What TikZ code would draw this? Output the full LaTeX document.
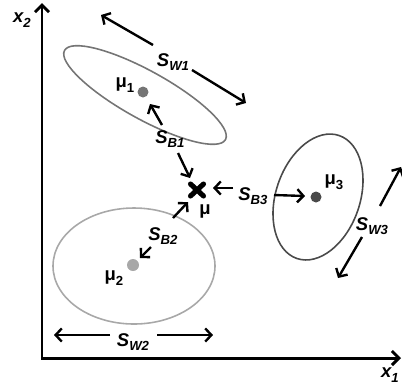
\documentclass[tikz,border=0pt]{standalone}
\usepackage{fontspec}
\setmainfont{Liberation Sans}
\usetikzlibrary{arrows.meta}
\definecolor{gA}{HTML}{757575}
\definecolor{gB}{HTML}{A8A8A8}
\definecolor{gC}{HTML}{4A4A4A}
\newcommand{\lblS}[1]{\bfseries\itshape S\raisebox{-0.45ex}{\fontsize{7.5}{8}\selectfont #1}}
\newcommand{\lblM}[1]{\bfseries μ\raisebox{-0.45ex}{\fontsize{7.5}{8}\selectfont #1}}
\begin{document}
\begin{tikzpicture}[x=0.02cm,y=0.02cm,
  lbl/.style={inner sep=0pt,font=\fontsize{10.5}{12}\selectfont},
  arr/.style={line width=1.35pt,-{Straight Barb[length=3.5pt,width=7.5pt]}},
  axis/.style={line width=1.7pt,-{Straight Barb[length=4pt,width=8pt]}},
  ell/.style={line width=0.9pt}]
\useasboundingbox (0,0) rectangle (402,-387);
% axes
\coordinate (o) at (42,-358);
\coordinate (xe) at (401,-358);
\coordinate (ye) at (42,-3);
\draw[axis] (o) -- (xe);
\draw[axis] ([yshift=-0.85pt]o) -- (ye);
\node[lbl] (x2) at (22,-20) {\bfseries\itshape x\raisebox{-0.45ex}{\fontsize{7.5}{8}\selectfont 2}};
\node[lbl] (x1) at (390,-375) {\bfseries\itshape x\raisebox{-0.45ex}{\fontsize{7.5}{8}\selectfont 1}};
% ellipses
\draw[ell,gA] (145,-95) ellipse[x radius=92,y radius=24,rotate=-29];
\draw[ell,gB] (134,-266) ellipse[x radius=81,y radius=58];
\draw[ell,gC] (318,-197) ellipse[x radius=65,y radius=42,rotate=71];
% means
\fill[gA] (143,-92) circle (5.5) coordinate (m1);
\fill[gB] (133,-265) circle (6) coordinate (m2);
\fill[gC] (316,-197) circle (5.5) coordinate (m3);
\node[lbl] (lm1) at (125,-85) {\lblM{1}};
\node[lbl] (lm2) at (114,-278) {\lblM{2}};
\node[lbl] (lm3) at (334,-182) {\lblM{3}};
% overall mean
\coordinate (mu) at (197,-190);
\draw[line width=2.9pt,line cap=round] ([shift={(-6.5,-6)}]mu) -- ([shift={(6.5,6)}]mu) ([shift={(-6.5,6)}]mu) -- ([shift={(6.5,-6)}]mu);
\node[lbl] (lmu) at (205,-211) {\bfseries μ};
% within scatter labels
\node[lbl] (sw1) at (173,-62) {\lblS{W1}};
\coordinate (sw1a) at (153,-45); \coordinate (sw1at) at (101,-15);
\coordinate (sw1b) at (192,-70); \coordinate (sw1bt) at (246,-103);
\draw[arr] (sw1a) -- (sw1at);
\draw[arr] (sw1b) -- (sw1bt);
\node[lbl] (sw2) at (133,-342) {\lblS{W2}};
\coordinate (sw2a) at (110,-335); \coordinate (sw2at) at (54,-335);
\coordinate (sw2b) at (157,-335); \coordinate (sw2bt) at (213,-335);
\draw[arr] (sw2a) -- (sw2at);
\draw[arr] (sw2b) -- (sw2bt);
\node[lbl] (sw3) at (372,-226) {\lblS{W3}};
\coordinate (sw3a) at (380,-206); \coordinate (sw3at) at (401,-167);
\coordinate (sw3b) at (362,-237); \coordinate (sw3bt) at (338,-278);
\draw[arr] (sw3a) -- (sw3at);
\draw[arr] (sw3b) -- (sw3bt);
% between scatter labels
\node[lbl] (sb1) at (170,-139) {\lblS{B1}};
\coordinate (sb1a) at (162,-125); \coordinate (sb1at) at (150,-104);
\coordinate (sb1b) at (178,-153); \coordinate (sb1bt) at (190,-178);
\draw[arr] (sb1a) -- (sb1at);
\draw[arr] (sb1b) -- (sb1bt);
\node[lbl] (sb2) at (163,-236) {\lblS{B2}};
\coordinate (sb2a) at (151,-247); \coordinate (sb2at) at (140,-258);
\coordinate (sb2b) at (173,-218); \coordinate (sb2bt) at (188,-202);
\draw[arr] (sb2a) -- (sb2at);
\draw[arr] (sb2b) -- (sb2bt);
\node[lbl] (sb3) at (253,-196) {\lblS{B3}};
\coordinate (sb3a) at (233,-188); \coordinate (sb3at) at (213,-188);
\coordinate (sb3b) at (274,-195); \coordinate (sb3bt) at (305,-196);
\draw[arr] (sb3a) -- (sb3at);
\draw[arr] (sb3b) -- (sb3bt);
\end{tikzpicture}
\end{document}
